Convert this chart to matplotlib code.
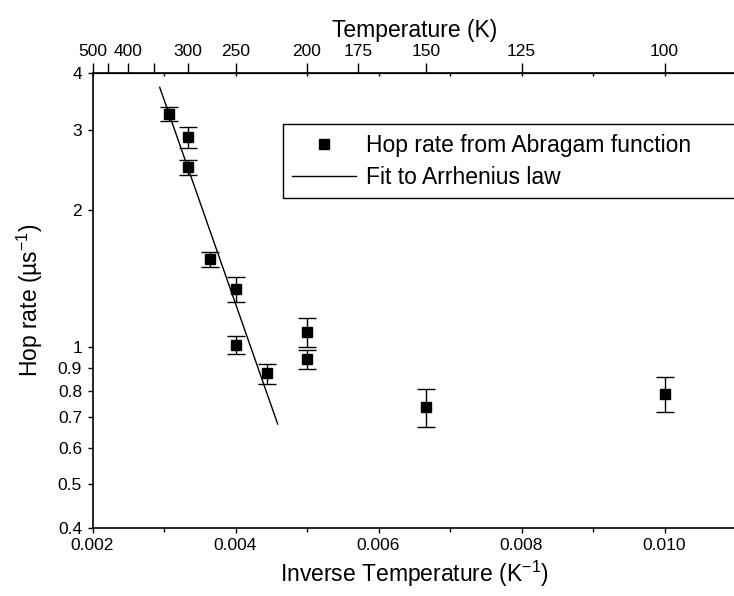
import matplotlib as mpl
mpl.use('Agg')
import matplotlib.pyplot as plt
from matplotlib.ticker import FixedLocator, NullLocator, NullFormatter
import numpy as np

plt.rcParams['font.family'] = ['Liberation Sans', 'DejaVu Sans']
plt.rcParams['mathtext.fontset'] = 'custom'
plt.rcParams['mathtext.rm'] = 'Liberation Sans'
plt.rcParams['mathtext.it'] = 'Liberation Sans:italic'

# hop rate vs inverse temperature (K^-1)
inv_temp = [0.00307, 0.00333, 0.00333, 0.00364, 0.00400, 0.00400,
            0.00444, 0.00500, 0.00500, 0.00667, 0.01000]
hop_rate = [3.25, 2.89, 2.48, 1.56, 1.34, 1.01, 0.875, 1.08, 0.94, 0.738, 0.788]
hop_err = [0.11, 0.15, 0.09, 0.06, 0.086, 0.046, 0.044, 0.08, 0.047, 0.07, 0.07]

# Arrhenius fit line end points
fit_x = [0.00294, 0.00459]
fit_y = [3.72, 0.677]

x_ticks = [0.002, 0.004, 0.006, 0.008, 0.010]
x_minor = [0.003, 0.005, 0.007, 0.009]
x_all = [0.002, 0.003, 0.004, 0.005, 0.006, 0.007, 0.008, 0.009, 0.010, 0.011]
y_ticks = [0.4, 0.5, 0.6, 0.7, 0.8, 0.9, 1, 2, 3, 4]
y_labels = ['0.4', '0.5', '0.6', '0.7', '0.8', '0.9', '1', '2', '3', '4']
temp_ticks = [500, 400, 300, 250, 200, 175, 150, 125, 100]
temp_minor = [450, 350]

W, H = 734, 596
fig = plt.figure(figsize=(W / 100, H / 100), dpi=100)
ax = fig.add_axes([92.5 / W, (H - 528) / H, 643.5 / W, 455 / H])

ax.errorbar(inv_temp, hop_rate, yerr=hop_err, fmt='none', ecolor='black',
            elinewidth=1, capsize=6.5, capthick=1)
ax.plot(inv_temp, hop_rate, 's', color='black', markersize=7.2,
        label='Hop rate from Abragam function')
ax.plot(fit_x, fit_y, color='black', lw=1, label='Fit to Arrhenius law')

ax.set_yscale('log')
ax.set_xlim(0.002, 0.011)
ax.set_ylim(0.4, 4)
ax.yaxis.set_major_locator(FixedLocator(y_ticks))
ax.set_yticklabels(y_labels)
ax.yaxis.set_minor_locator(NullLocator())
ax.yaxis.set_minor_formatter(NullFormatter())
ax.set_xticks(x_ticks)
ax.set_xticklabels(['0.002', '0.004', '0.006', '0.008', '0.010'])
ax.xaxis.set_minor_locator(FixedLocator(x_minor))
ax.tick_params(axis='both', which='major', direction='out', length=3.5,
               width=1, labelsize=12.5, pad=4)
ax.tick_params(axis='x', which='minor', direction='out', length=3, width=1)
ax.tick_params(axis='x', top=False, which='both')
ax.tick_params(axis='y', right=False)
for s in ax.spines.values():
    s.set_linewidth(1.2)

ax.set_xlabel('Inverse Temperature (K$^{\\mathregular{-1}}$)', fontsize=16.5, labelpad=4)
ax.set_ylabel('Hop rate (\u00b5s$^{\\mathregular{-1}}$)', fontsize=16.5, labelpad=9.5)


def inv(x):
    x = np.asarray(x, dtype=float)
    with np.errstate(divide='ignore'):
        return 1.0 / x


# temperature axis on top
sec = ax.secondary_xaxis('top', functions=(inv, inv))
sec.set_xticks(temp_ticks)
sec.set_xticklabels([str(t) for t in temp_ticks])
sec.xaxis.set_minor_locator(FixedLocator(temp_minor))
sec.tick_params(which='both', direction='out', length=7, width=1,
                labelsize=12.5, pad=3)
sec.set_xlabel('Temperature (K)', fontsize=16.5, labelpad=5)

# small inward ticks on top spine
sec2 = ax.secondary_xaxis('top')
sec2.set_xticks(x_all)
sec2.tick_params(direction='in', length=1.8, width=1, labeltop=False)
sec2.xaxis.set_minor_locator(NullLocator())

leg = ax.legend(loc='upper left', bbox_to_anchor=(0.2955, 0.5, 0.8, 0.388),
                mode='expand', borderaxespad=0, fontsize=16.5, frameon=True,
                fancybox=False, edgecolor='black', framealpha=1,
                handlelength=2.8, handletextpad=0.4, labelspacing=0.4,
                borderpad=0.42)
leg.get_frame().set_linewidth(1)

fig.savefig('out.png', dpi=100)
